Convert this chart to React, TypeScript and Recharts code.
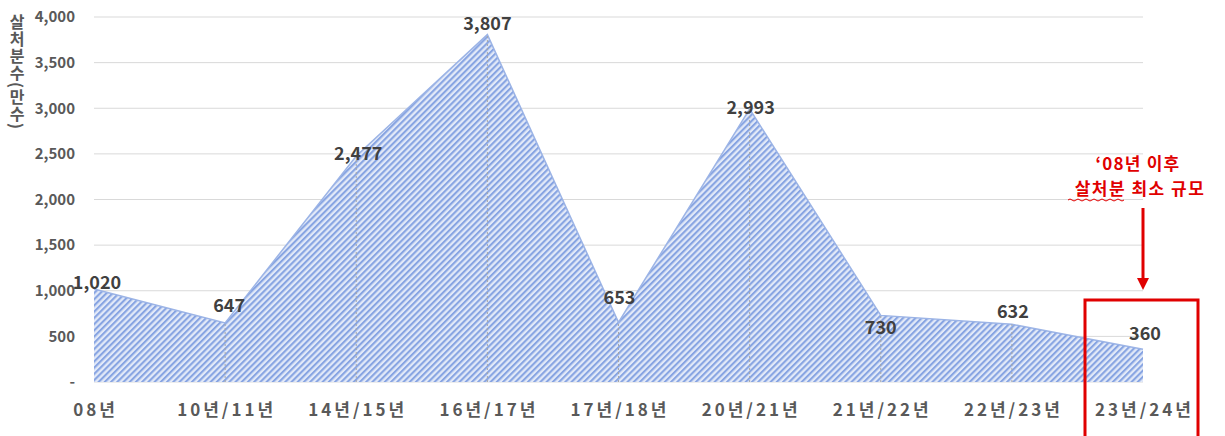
import React from 'react';
import {
  AreaChart,
  Area,
  XAxis,
  YAxis,
  CartesianGrid,
  ReferenceLine,
} from 'recharts';

document.body.style.margin = '0';

const periods = ['08년', '10년/11년', '14년/15년', '16년/17년', '17년/18년', '20년/21년', '21년/22년', '22년/23년', '23년/24년'];
const culled = [1020, 647, 2477, 3807, 653, 2993, 730, 632, 360];
const yTicks = [0, 500, 1000, 1500, 2000, 2500, 3000, 3500, 4000];

// label nudges so the numbers sit roughly where Excel put them
const labelDx = [3, 4, 2, 0, 1, 1, 0, 1, 2];
const labelDy = [-8, -19, -4, -13, -26, -3, 11, -14, -17];

const data = periods.map((p, i) => ({ period: p, value: culled[i] }));

const FONT = '"Noto Sans CJK KR", "Noto Sans", sans-serif';
const GRAY = '#595959';
const RED = '#e00000';

const fmt = (v: number) => (v === 0 ? '-' : v.toLocaleString('en-US'));

const PointLabel = (props: any) => {
  const { x, y, index, value } = props;
  return (
    <text
      x={x + labelDx[index]}
      y={y + labelDy[index]}
      textAnchor="middle"
      dominantBaseline="central"
      fontFamily={FONT}
      fontSize={18}
      fontWeight={700}
      fill="#404040"
    >
      {fmt(value)}
    </text>
  );
};

const PeriodTick = (props: any) => {
  const { x, y, payload } = props;
  return (
    <text
      x={x + 1.5}
      y={y}
      dy="0.71em"
      textAnchor="middle"
      fontFamily={FONT}
      fontSize={17}
      fontWeight={700}
      fill={GRAY}
      letterSpacing={3}
    >
      {payload.value}
    </text>
  );
};

export default function App() {
  return (
    <div style={{ position: 'relative', width: 1225, height: 436, background: '#fff', overflow: 'hidden' }}>
      <AreaChart width={1225} height={436} data={data} margin={{ top: 17, right: 82, bottom: 0, left: 24 }}>
        <defs>
          <pattern id="hatch" patternUnits="userSpaceOnUse" width="4.4" height="4.4" patternTransform="rotate(45)">
            <rect width="4.4" height="4.4" fill="#e2e9f8" />
            <rect width="2.1" height="4.4" fill="#87a4e2" />
          </pattern>
        </defs>
        <CartesianGrid vertical={false} stroke="#d9d9d9" />
        <XAxis
          dataKey="period"
          interval={0}
          axisLine={false}
          tickLine={false}
          tickSize={0}
          tickMargin={22}
          height={54}
          tick={<PeriodTick />}
        />
        <YAxis
          domain={[0, 4000]}
          ticks={yTicks}
          tickFormatter={fmt}
          axisLine={false}
          tickLine={false}
          tickSize={0}
          tickMargin={19}
          width={70}
          tick={{ fill: GRAY, fontSize: 15, fontWeight: 700, fontFamily: FONT }}
        />
        <Area
          type="linear"
          dataKey="value"
          stroke="#9cb4e6"
          strokeWidth={1.5}
          fill="url(#hatch)"
          fillOpacity={1}
          isAnimationActive={false}
          dot={false}
          activeDot={false}
          label={PointLabel}
        />
        {data.slice(1, -1).map((d) => (
          <ReferenceLine
            key={d.period}
            segment={[{ x: d.period, y: 0 }, { x: d.period, y: d.value }]}
            stroke="#a6a6a6"
            strokeDasharray="2 2"
            strokeWidth={1}
          />
        ))}
      </AreaChart>

      <div
        style={{
          position: 'absolute',
          left: 9,
          top: 14,
          writingMode: 'vertical-rl',
          fontFamily: FONT,
          fontSize: 16,
          fontWeight: 700,
          color: GRAY,
          letterSpacing: 1,
          lineHeight: 1,
        }}
      >
        살처분수(만수)
      </div>

      <svg width={1225} height={436} style={{ position: 'absolute', left: 0, top: 0, pointerEvents: 'none' }}>
        <text x={1138} y={170} textAnchor="middle" fontFamily={FONT} fontSize={17} fontWeight={700} fill={RED} letterSpacing={1.2}>
          ‘08년 이후
        </text>
        <text x={1140} y={195} textAnchor="middle" fontFamily={FONT} fontSize={17} fontWeight={700} fill={RED} letterSpacing={1.5}>
          살처분 최소 규모
        </text>
        <path
          d="M1068 200 q2 -2 4 0 t4 0 t4 0 t4 0 t4 0 t4 0 t4 0 t4 0 t4 0 t4 0 t4 0 t4 0 t4 0 t4 0"
          fill="none"
          stroke={RED}
          strokeWidth={1}
        />
        <line x1={1143} y1={208} x2={1143} y2={280} stroke={RED} strokeWidth={3} />
        <polygon points="1137,278 1149,278 1143,290" fill={RED} />
        <rect x={1085} y={300} width={113} height={140} fill="none" stroke={RED} strokeWidth={3} />
      </svg>
    </div>
  );
}
